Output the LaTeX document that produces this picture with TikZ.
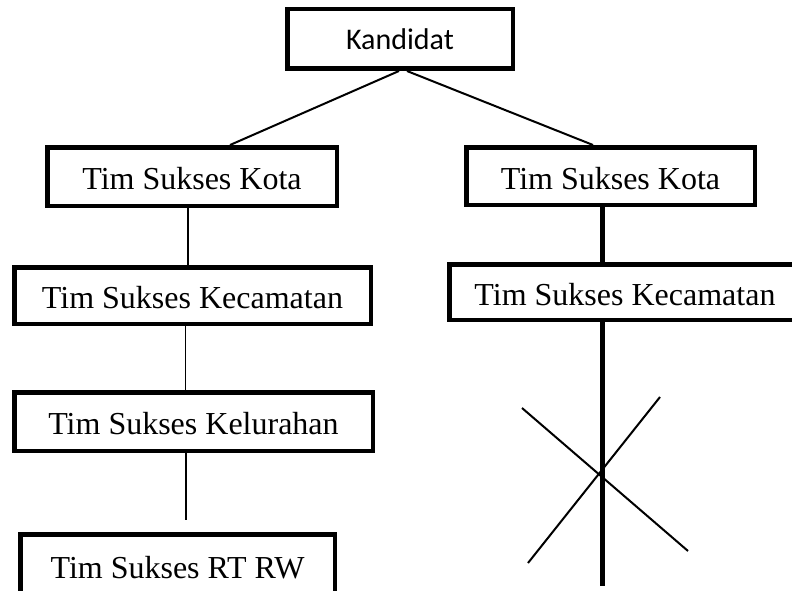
\documentclass[tikz,border=0pt]{standalone}
\usepackage{fontspec}
\setmainfont{Liberation Serif}
\newfontfamily\calfont{Carlito}
\begin{document}
\begin{tikzpicture}[x=1pt,y=-1pt,
  box/.style={draw=black, line width=4.5pt, fill=white, inner sep=0pt,
    text height=26pt, text depth=0pt, font=\fontsize{32}{38}\selectfont},
  link/.style={draw=black, line width=2pt},
  thin/.style={draw=black, line width=1.5pt},
  thick/.style={draw=black, line width=5pt}]
\clip (0,0) rectangle (792,591);
\fill[white] (0,0) rectangle (792,591);

\node[box, minimum width=225.5pt, minimum height=59.5pt, text height=22pt,
  font=\calfont\fontsize{30}{36}\selectfont] (kand) at (400,39) {Kandidat};

\node[box, minimum width=289.5pt, minimum height=58.5pt] (kotaL) at (192,176.5) {Tim Sukses Kota};
\node[box, minimum width=288.5pt, minimum height=57.5pt] (kotaR) at (610.5,176) {Tim Sukses Kota};
\node[box, minimum width=356.5pt, minimum height=56.5pt] (kecL) at (192.5,295.5) {Tim Sukses Kecamatan};
\node[box, minimum width=351.5pt, minimum height=55.5pt] (kecR) at (625,292) {Tim Sukses Kecamatan};
\node[box, minimum width=358.5pt, minimum height=58.5pt] (kelL) at (193.5,421.5) {Tim Sukses Kelurahan};
\node[box, minimum width=314.5pt, minimum height=61.5pt] (rtL) at (177.5,565) {Tim Sukses RT RW};

\coordinate (kelEnd) at (186,520);
\coordinate (kecEnd) at (602,586);
\coordinate (xa1) at (522,408);
\coordinate (xa2) at (688,551);
\coordinate (xb1) at (660,397);
\coordinate (xb2) at (528,563);

\draw[link] ([xshift=-1pt]kand.south) -- ([xshift=38pt]kotaL.north);
\draw[link] ([xshift=7pt]kand.south) -- ([xshift=-17.5pt]kotaR.north);

\draw[thin] ([xshift=-4pt]kotaL.south) -- ([xshift=-4.5pt]kecL.north);
\draw[thin] ([xshift=-7pt]kecL.south) -- ([xshift=-8pt]kelL.north);
\draw[thin] ([xshift=-7.5pt]kelL.south) -- (kelEnd);

\draw[thick] ([xshift=-8.5pt]kotaR.south) -- ([xshift=-23pt]kecR.north);
\draw[thick] ([xshift=-23pt]kecR.south) -- (kecEnd);

\draw[link] (xa1) -- (xa2);
\draw[link] (xb1) -- (xb2);
\end{tikzpicture}
\end{document}
